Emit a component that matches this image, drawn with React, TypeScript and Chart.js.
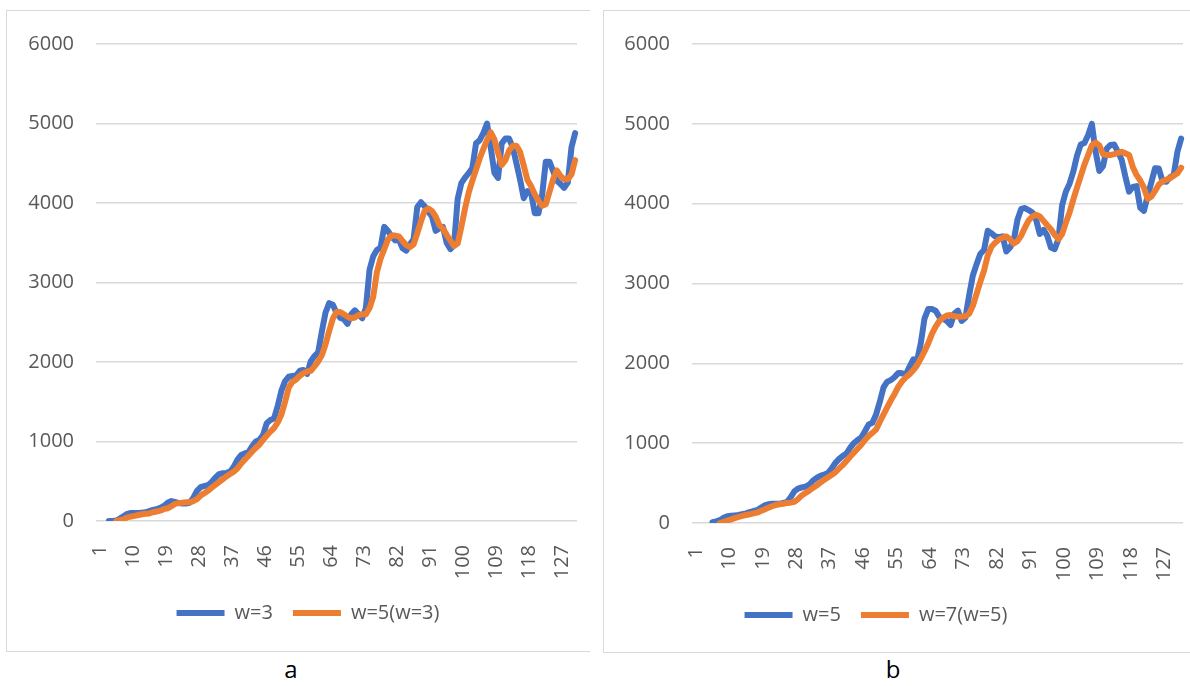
import { useEffect, useRef } from "react";
import { Chart, registerables } from "chart.js";

Chart.register(...registerables);

// ---- data -------------------------------------------------------------
// Panel a: 131 categories, moving averages w=3 and w=5 applied to w=3
const aCount = 131;
const aW3Start = 4;
const aW3 = [
  0, 0, 5, 30, 60, 90, 100, 100, 100, 105, 110, 125, 140, 150, 165, 190, 230, 250, 240, 225,
  220, 220, 230, 290, 380, 425, 440, 450, 490, 545, 590, 600, 605, 620, 680, 770, 830, 850, 865, 940,
  1000, 1020, 1080, 1230, 1270, 1290, 1450, 1640, 1760, 1815, 1825, 1830, 1890, 1900, 1850, 2010, 2075, 2120, 2380, 2620,
  2740, 2720, 2620, 2555, 2540, 2480, 2600, 2650, 2600, 2550, 2680, 3160, 3330, 3410, 3440, 3700, 3650, 3580, 3530, 3540,
  3430, 3400, 3480, 3545, 3950, 4010, 3960, 3890, 3830, 3650, 3680, 3700, 3500, 3420, 3470, 4050, 4250, 4320, 4375, 4440,
  4750, 4790, 4880, 5000, 4700, 4380, 4315, 4750, 4810, 4810, 4700, 4500, 4295, 4060, 4150, 4130, 3870, 3870, 4100, 4520,
  4520, 4400, 4280, 4240, 4190, 4260, 4700, 4880,
];
const aW5Start = 6;
const aW5 = [
  0, 10, 20, 45, 55, 65, 75, 85, 90, 95, 110, 120, 130, 150, 160, 185, 215, 225, 230, 235,
  235, 250, 275, 320, 350, 380, 420, 455, 490, 525, 560, 590, 620, 660, 720, 770, 820, 870, 920, 960,
  1020, 1075, 1125, 1170, 1240, 1340, 1500, 1680, 1750, 1780, 1825, 1860, 1880, 1890, 1945, 2005, 2085, 2220, 2390, 2545,
  2630, 2630, 2600, 2570, 2550, 2560, 2590, 2600, 2600, 2680, 2820, 3130, 3300, 3420, 3540, 3590, 3590, 3580, 3520, 3470,
  3445, 3480, 3620, 3770, 3900, 3930, 3900, 3830, 3720, 3680, 3600, 3530, 3460, 3490, 3700, 3930, 4130, 4280, 4420, 4560,
  4680, 4790, 4890, 4800, 4630, 4480, 4540, 4660, 4720, 4720, 4640, 4470, 4290, 4210, 4110, 4030, 3965, 3985, 4140, 4300,
  4410, 4340, 4300, 4300, 4360, 4540,
];

// Panel b: 132 categories, moving averages w=5 and w=7 applied to w=5
const bCount = 132;
const bW5Start = 6;
const bW5 = [
  10, 20, 35, 65, 85, 90, 95, 100, 110, 120, 135, 150, 160, 190, 220, 235, 240, 240, 240, 250,
  260, 320, 395, 430, 445, 455, 480, 530, 565, 590, 605, 625, 680, 750, 800, 840, 870, 940, 1000, 1040,
  1070, 1150, 1235, 1255, 1360, 1520, 1700, 1770, 1790, 1830, 1880, 1875, 1860, 1960, 2050, 2030, 2250, 2560, 2680, 2680,
  2660, 2580, 2560, 2530, 2480, 2620, 2660, 2530, 2570, 2850, 3100, 3240, 3370, 3420, 3660, 3630, 3590, 3580, 3590, 3400,
  3450, 3540, 3800, 3935, 3945, 3920, 3890, 3800, 3620, 3670, 3600, 3450, 3430, 3555, 3980, 4150, 4250, 4400, 4600, 4740,
  4760, 4860, 5000, 4650, 4410, 4470, 4690, 4735, 4740, 4650, 4550, 4340, 4150, 4210, 4220, 3950, 3910, 4100, 4270, 4445,
  4440, 4280, 4275, 4330, 4360, 4650, 4815,
];
const bW7Start = 8;
const bW7 = [
  0, 15, 30, 45, 60, 75, 90, 100, 110, 120, 130, 150, 170, 190, 210, 225, 235, 240, 250, 255,
  265, 300, 345, 375, 405, 440, 470, 505, 540, 570, 600, 635, 680, 725, 775, 830, 880, 930, 980, 1040,
  1090, 1130, 1170, 1270, 1360, 1450, 1540, 1620, 1710, 1775, 1825, 1865, 1915, 1975, 2060, 2150, 2250, 2370, 2460, 2530,
  2570, 2600, 2605, 2590, 2585, 2585, 2590, 2620, 2720, 2870, 3020, 3160, 3350, 3460, 3510, 3550, 3575, 3590, 3550, 3500,
  3530, 3600, 3700, 3790, 3840, 3860, 3840, 3785, 3730, 3680, 3610, 3555, 3620, 3760, 3890, 4050, 4200, 4345, 4490, 4610,
  4730, 4765, 4730, 4620, 4610, 4610, 4620, 4635, 4650, 4630, 4610, 4460, 4360, 4290, 4200, 4060, 4090, 4160, 4240, 4280,
  4300, 4320, 4350, 4380, 4450,
];

const yMin = 0;
const yMax = 6000;
const yStep = 1000;
const labelEvery = 9;

// ---- styling ------------------------------------------------------------
const BLUE = "#4472C4";
const ORANGE = "#ED7D31";
const GRID = "#d9d9d9";
const TEXT = "#595959";
const FONT = "'Open Sans', 'Noto Sans', sans-serif";

type Series = { label: string; start: number; values: number[]; color: string };

type PanelProps = {
  count: number;
  series: Series[];
  left: number;
  top: number;
  width: number;
  height: number;
  pad: { left: number; right: number; top: number; bottom: number };
  leftGap: number; // empty band left of the value axis (legend centring)
  yAxisWidth: number;
  rightGap: number; // empty band right of the plot
  xAxisHeight: number;
};

function padSeries(count: number, start: number, values: number[]) {
  const out: (number | null)[] = new Array(count).fill(null);
  values.forEach((v, i) => {
    out[start - 1 + i] = v;
  });
  return out;
}

function spacer(position: "left" | "right", size: number, weight: number) {
  return {
    type: "linear",
    position,
    weight,
    display: true,
    grid: { display: false },
    border: { display: false },
    ticks: { display: false },
    afterFit: (s: any) => {
      s.width = size;
    },
  };
}

function Panel(props: PanelProps) {
  const { count, series, left, top, width, height, pad, leftGap, yAxisWidth, rightGap, xAxisHeight } = props;
  const ref = useRef<HTMLCanvasElement | null>(null);

  useEffect(() => {
    if (!ref.current) return;
    const labels = Array.from({ length: count }, (_, i) => String(i + 1));
    const chart = new Chart(ref.current, {
      type: "line",
      data: {
        labels,
        datasets: series.map((s, idx) => ({
          label: s.label,
          data: padSeries(count, s.start, s.values),
          borderColor: s.color,
          backgroundColor: s.color,
          borderWidth: 6,
          borderCapStyle: "round",
          borderJoinStyle: "round",
          pointRadius: 0,
          pointHoverRadius: 0,
          tension: 0,
          xAxisID: "x",
          yAxisID: "y",
          // later series is painted over the earlier one
          order: series.length - idx,
        })),
      },
      options: {
        responsive: false,
        animation: false,
        devicePixelRatio: 1,
        events: [],
        layout: { padding: pad },
        plugins: {
          tooltip: { enabled: false },
          legend: {
            position: "bottom",
            labels: {
              usePointStyle: true,
              pointStyle: "line",
              pointStyleWidth: 48,
              padding: 20,
              color: TEXT,
              font: { family: FONT, size: 20 },
              sort: (a: any, b: any) => a.datasetIndex - b.datasetIndex,
            },
          },
        },
        scales: {
          x: {
            type: "category",
            offset: true,
            grid: { display: false },
            border: { display: false },
            ticks: {
              autoSkip: false,
              minRotation: 90,
              maxRotation: 90,
              padding: 16,
              labelOffset: 2,
              color: TEXT,
              font: { family: FONT, size: 20 },
              callback: (_v: any, i: number) => (i % labelEvery === 0 ? labels[i] : ""),
            },
            afterFit: (s: any) => {
              s.height = xAxisHeight;
            },
          },
          y: {
            type: "linear",
            position: "left",
            weight: 0,
            min: yMin,
            max: yMax,
            grid: { color: GRID, lineWidth: 1.5, drawTicks: false },
            border: { display: false },
            ticks: {
              stepSize: yStep,
              padding: 22,
              color: TEXT,
              font: { family: FONT, size: 20 },
              callback: (v: any) => String(v),
            },
            afterFit: (s: any) => {
              s.width = yAxisWidth;
            },
          },
          gapLeft: spacer("left", leftGap, 1),
          gapRight: spacer("right", rightGap, 0),
        },
      },
    } as any);
    return () => chart.destroy();
  }, []);

  return (
    <canvas
      ref={ref}
      width={width}
      height={height}
      style={{ position: "absolute", left, top, width, height }}
    />
  );
}

const captionStyle = {
  position: "absolute" as const,
  top: 657,
  width: 60,
  textAlign: "center" as const,
  fontSize: 24,
  lineHeight: "24px",
  color: "#000",
};

export default function App() {
  return (
    <div
      style={{
        position: "absolute",
        left: 0,
        top: 0,
        width: 1190,
        height: 686,
        overflow: "hidden",
        background: "#fff",
        fontFamily: FONT,
      }}
    >
      {/* frames */}
      <div
        style={{
          position: "absolute",
          left: 6,
          top: 10,
          width: 584,
          height: 642,
          boxSizing: "border-box",
          border: `1.5px solid ${GRID}`,
          borderRight: "none",
        }}
      />
      <div
        style={{
          position: "absolute",
          left: 603,
          top: 10,
          width: 620,
          height: 643,
          boxSizing: "border-box",
          border: `1.5px solid ${GRID}`,
        }}
      />

      <Panel
        count={aCount}
        series={[
          { label: "w=3", start: aW3Start, values: aW3, color: BLUE },
          { label: "w=5(w=3)", start: aW5Start, values: aW5, color: ORANGE },
        ]}
        left={-6}
        top={10}
        width={628}
        height={632}
        pad={{ left: 0, right: 0, top: 30, bottom: 9 }}
        leftGap={30}
        yAxisWidth={72}
        rightGap={45}
        xAxisHeight={62}
      />
      <Panel
        count={bCount}
        series={[
          { label: "w=5", start: bW5Start, values: bW5, color: BLUE },
          { label: "w=7(w=5)", start: bW7Start, values: bW7, color: ORANGE },
        ]}
        left={524}
        top={10}
        width={704}
        height={632}
        pad={{ left: 0, right: 0, top: 30, bottom: 7 }}
        leftGap={79}
        yAxisWidth={89}
        rightGap={45}
        xAxisHeight={62}
      />

      {/* captions */}
      <div style={{ ...captionStyle, left: 261 }}>a</div>
      <div style={{ ...captionStyle, left: 863 }}>b</div>
    </div>
  );
}
